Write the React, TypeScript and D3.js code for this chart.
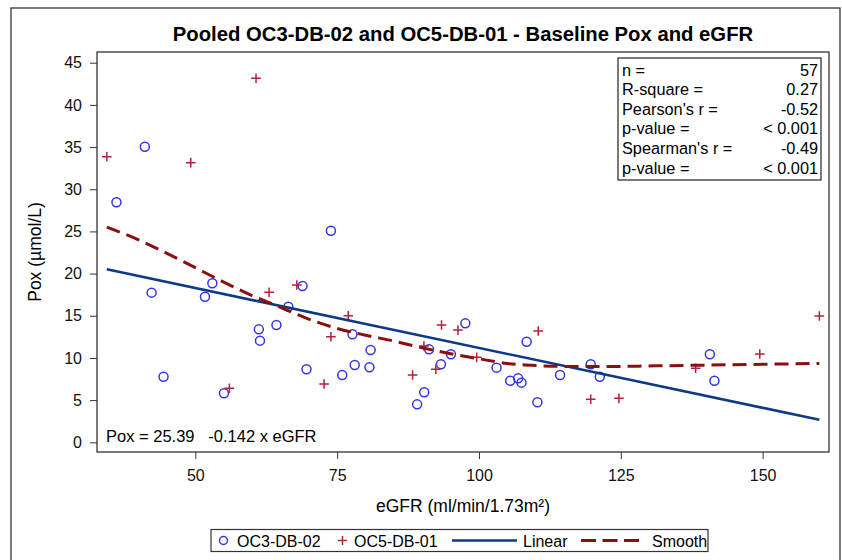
import React, { useEffect, useRef } from 'react';
import * as d3 from 'd3';

// OC3-DB-02 (circles)
const oc3Egfr = [41.1, 36.1, 73.9, 42.3, 51.7, 53.0, 68.9, 66.4, 61.2, 61.4, 64.3, 44.4, 55.05, 69.6, 75.9, 77.7, 80.9, 78.1, 80.7, 90.35, 89.1, 93.3, 91.2, 95.06, 97.6, 103.1, 105.5, 106.9, 107.5, 108.4, 110.3, 114.3, 119.7, 121.3, 140.7, 141.5];
const oc3Pox = [35.04, 28.45, 25.08, 17.74, 17.26, 18.85, 18.53, 16.08, 13.39, 12.05, 13.9, 7.78, 5.81, 8.65, 7.98, 12.8, 10.94, 9.16, 8.89, 5.93, 4.5, 9.25, 11.02, 10.43, 14.1, 8.85, 7.3, 7.58, 7.07, 11.93, 4.74, 7.98, 9.25, 7.78, 10.43, 7.3];

// OC5-DB-01 (plus)
const oc5Egfr = [60.7, 34.4, 49.2, 63.0, 67.9, 73.9, 56.0, 72.7, 76.96, 88.3, 92.4, 90.3, 93.4, 96.3, 99.6, 110.45, 119.7, 124.67, 138.2, 149.5, 160.0];
const oc5Pox = [43.15, 33.86, 33.15, 17.78, 18.65, 12.52, 6.4, 6.91, 15.0, 7.98, 8.65, 11.42, 13.9, 13.3, 10.07, 13.2, 5.1, 5.21, 8.77, 10.47, 14.97];

// loess smooth
const smoothEgfr = [34.4, 40, 45, 50, 55, 60, 65, 70, 75, 80, 85, 90, 95, 100, 105, 110, 115, 120, 125, 130, 140, 150, 160];
const smoothPox = [25.5, 24.0, 22.4, 20.7, 19.0, 17.4, 16.0, 14.6, 13.5, 12.7, 12.0, 11.2, 10.5, 9.9, 9.35, 9.1, 9.0, 9.0, 9.0, 9.05, 9.15, 9.25, 9.35];

const intercept = 25.39;
const slope = -0.142;

const xTicks = [50, 75, 100, 125, 150];
const yTicks = [0, 5, 10, 15, 20, 25, 30, 35, 40, 45];

const statLabels = ['n =', 'R-square =', "Pearson's r =", 'p-value =', "Spearman's r =", 'p-value ='];
const statValues = ['57', '0.27', '-0.52', '< 0.001', '-0.49', '< 0.001'];

const FONT = '"Liberation Sans", Arial, Helvetica, sans-serif';
const BLUE_MARK = '#3434E4';
const RED_MARK = '#B5203A';
const LINEAR = '#0D3A85';
const SMOOTH = '#8B0F0F';

const App: React.FC = () => {
  const svgRef = useRef<SVGSVGElement | null>(null);

  useEffect(() => {
    if (!svgRef.current) return;

    const width = 842;
    const height = 560;
    const plot = { left: 97, right: 829, top: 52, bottom: 452 };

    const svg = d3.select(svgRef.current);
    svg.selectAll('*').remove();
    svg.attr('width', width).attr('height', height).style('font-family', FONT);

    // outer frame
    svg
      .append('rect')
      .attr('x', 11)
      .attr('y', 8)
      .attr('width', 829)
      .attr('height', 580)
      .attr('fill', 'none')
      .attr('stroke', '#333')
      .attr('stroke-width', 1.3);

    const x = d3.scaleLinear().domain([32.67, 161.7]).range([plot.left, plot.right]);
    const y = d3.scaleLinear().domain([-1.15, 46.27]).range([plot.bottom, plot.top]);

    svg
      .append('text')
      .attr('x', (plot.left + plot.right) / 2)
      .attr('y', 41)
      .attr('text-anchor', 'middle')
      .attr('font-weight', 'bold')
      .attr('font-size', 20.3)
      .text('Pooled OC3-DB-02 and OC5-DB-01 - Baseline Pox and eGFR');

    const gx = svg
      .append('g')
      .attr('transform', `translate(0, ${plot.bottom})`)
      .call(d3.axisBottom(x).tickValues(xTicks).tickSize(7).tickPadding(11).tickSizeOuter(0));
    gx.attr('font-size', 16).attr('font-family', FONT);
    gx.select('.domain').remove();
    gx.selectAll('line').attr('stroke', '#333');
    gx.selectAll('text').attr('fill', '#111');

    const gy = svg
      .append('g')
      .attr('transform', `translate(${plot.left}, 0)`)
      .call(d3.axisLeft(y).tickValues(yTicks).tickSize(7).tickPadding(8).tickSizeOuter(0));
    gy.attr('font-size', 16).attr('font-family', FONT);
    gy.select('.domain').remove();
    gy.selectAll('line').attr('stroke', '#333');
    gy.selectAll('text').attr('fill', '#111');

    svg
      .append('text')
      .attr('x', (plot.left + plot.right) / 2)
      .attr('y', 512)
      .attr('text-anchor', 'middle')
      .attr('font-size', 17.5)
      .text('eGFR (ml/min/1.73m²)');

    svg
      .append('text')
      .attr('transform', `translate(41, ${(plot.top + plot.bottom) / 2}) rotate(-90)`)
      .attr('text-anchor', 'middle')
      .attr('font-size', 17.5)
      .text('Pox (µmol/L)');

    // plot frame
    svg
      .append('rect')
      .attr('x', plot.left)
      .attr('y', plot.top)
      .attr('width', plot.right - plot.left)
      .attr('height', plot.bottom - plot.top)
      .attr('fill', 'none')
      .attr('stroke', '#333')
      .attr('stroke-width', 1.3);

    // markers
    svg
      .append('g')
      .selectAll('circle')
      .data(oc3Egfr.map((e, i) => [e, oc3Pox[i]]))
      .enter()
      .append('circle')
      .attr('cx', (d) => x(d[0]))
      .attr('cy', (d) => y(d[1]))
      .attr('r', 4.5)
      .attr('fill', 'none')
      .attr('stroke', BLUE_MARK)
      .attr('stroke-width', 1.5);

    svg
      .append('g')
      .selectAll('path')
      .data(oc5Egfr.map((e, i) => [e, oc5Pox[i]]))
      .enter()
      .append('path')
      .attr('d', 'M-4.8,0H4.8M0,-4.8V4.8')
      .attr('transform', (d) => `translate(${x(d[0])}, ${y(d[1])})`)
      .attr('stroke', RED_MARK)
      .attr('stroke-width', 1.5)
      .attr('fill', 'none');

    // linear fit over the data range
    const allX = oc3Egfr.concat(oc5Egfr);
    const [xMin, xMax] = d3.extent(allX) as [number, number];
    const line = d3
      .line<number>()
      .x((d) => x(d))
      .y((d) => y(intercept + slope * d));
    svg
      .append('path')
      .attr('d', line([xMin, xMax]))
      .attr('fill', 'none')
      .attr('stroke', LINEAR)
      .attr('stroke-width', 2.6);

    const smoothLine = d3
      .line<number>()
      .x((d) => x(d))
      .y((d, i) => y(smoothPox[i]))
      .curve(d3.curveMonotoneX);
    svg
      .append('path')
      .attr('d', smoothLine(smoothEgfr))
      .attr('fill', 'none')
      .attr('stroke', SMOOTH)
      .attr('stroke-width', 3)
      .attr('stroke-dasharray', '14,7');

    // equation
    svg
      .append('text')
      .attr('x', 106)
      .attr('y', 442)
      .attr('font-size', 16.5)
      .style('white-space', 'pre')
      .attr('xml:space', 'preserve')
      .text(`Pox = ${intercept}   ${slope} x eGFR`);

    // stats box
    const stats = svg.append('g');
    stats
      .append('rect')
      .attr('x', 618)
      .attr('y', 58)
      .attr('width', 203)
      .attr('height', 122)
      .attr('fill', '#fff')
      .attr('stroke', '#333')
      .attr('stroke-width', 1.3);
    statLabels.forEach((label, i) => {
      stats
        .append('text')
        .attr('x', 622)
        .attr('y', 75.5 + i * 19.6)
        .attr('font-size', 16.3)
        .text(label);
      stats
        .append('text')
        .attr('x', 818)
        .attr('y', 75.5 + i * 19.6)
        .attr('text-anchor', 'end')
        .attr('font-size', 16.3)
        .text(statValues[i]);
    });

    // legend
    const lg = svg.append('g');
    const ly = 540.5;
    lg.append('rect')
      .attr('x', 211)
      .attr('y', 529.5)
      .attr('width', 497)
      .attr('height', 22)
      .attr('fill', '#fff')
      .attr('stroke', '#333')
      .attr('stroke-width', 1.2);
    lg.append('circle')
      .attr('cx', 223.5)
      .attr('cy', ly)
      .attr('r', 4)
      .attr('fill', 'none')
      .attr('stroke', BLUE_MARK)
      .attr('stroke-width', 1.5);
    lg.append('path')
      .attr('d', 'M-4.6,0H4.6M0,-4.6V4.6')
      .attr('transform', `translate(342.5, ${ly})`)
      .attr('stroke', RED_MARK)
      .attr('stroke-width', 1.5);
    lg.append('line')
      .attr('x1', 452).attr('x2', 517).attr('y1', ly).attr('y2', ly)
      .attr('stroke', LINEAR).attr('stroke-width', 2.6);
    lg.append('line')
      .attr('x1', 581).attr('x2', 639).attr('y1', ly).attr('y2', ly)
      .attr('stroke', SMOOTH).attr('stroke-width', 3).attr('stroke-dasharray', '15,6.5');
    const legendTexts: [number, string][] = [
      [237, 'OC3-DB-02'],
      [354, 'OC5-DB-01'],
      [523, 'Linear'],
      [652, 'Smooth'],
    ];
    legendTexts.forEach(([tx, t]) => {
      lg.append('text').attr('x', tx).attr('y', ly + 6).attr('font-size', 16).text(t);
    });
  }, []);

  return (
    <div style={{ position: 'absolute', left: 0, top: 0 }}>
      <svg ref={svgRef}></svg>
    </div>
  );
};

export default App;
